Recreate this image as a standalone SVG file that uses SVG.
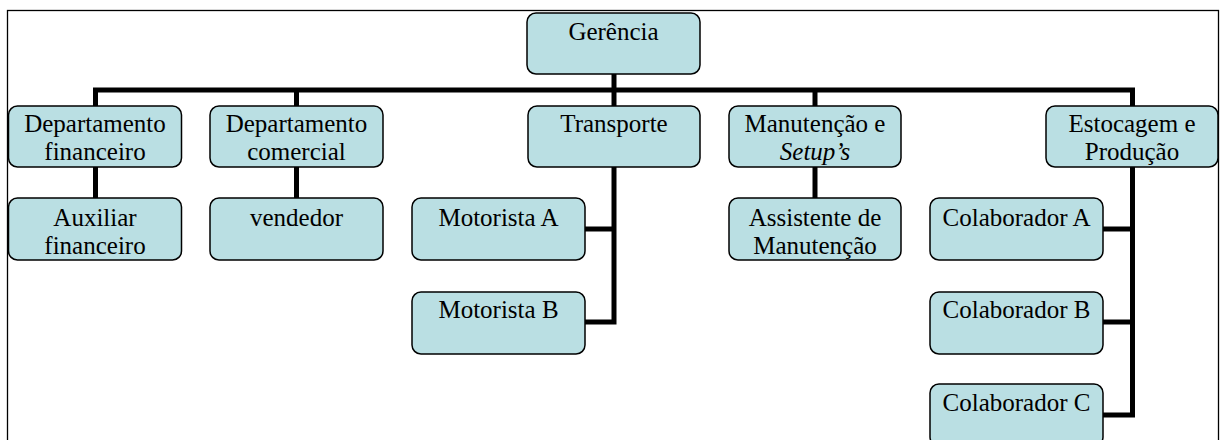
<svg xmlns="http://www.w3.org/2000/svg" width="1221" height="440" viewBox="0 0 1221 440">
<style>
.box{fill:#BADFE3;stroke:#000;stroke-width:1.5}
.t{font-family:"Liberation Serif","Times New Roman",serif;font-size:25px;fill:#000;text-anchor:middle}
.c{fill:none;stroke:#000;stroke-width:5;stroke-linecap:butt;stroke-linejoin:miter}
</style>
<rect x="7.5" y="10.5" width="1211" height="440" fill="#fff" stroke="#000" stroke-width="1.3"/>
<g id="connectors">
<path class="c" d="M614 74 V106"/>
<path class="c" d="M95.5 106 V90 H1132.5 V106"/>
<path class="c" d="M296.5 90 V106"/>
<path class="c" d="M815 90 V106"/>
<path class="c" d="M95.5 167 V198"/>
<path class="c" d="M296.5 167 V198"/>
<path class="c" d="M815 167 V198"/>
<path class="c" d="M614 167 V322 H585"/>
<path class="c" d="M585 229 H614"/>
<path class="c" d="M1132.5 167 V415 H1103"/>
<path class="c" d="M1103 229 H1132.5"/>
<path class="c" d="M1103 322 H1132.5"/>
</g>
<g id="gerencia"><rect class="box" x="527" y="13" width="173" height="61" rx="9"/><text class="t" x="613.5" y="40">Gerência</text></g>
<g id="dep-financeiro"><rect class="box" x="8.5" y="106" width="173" height="61" rx="9"/><text class="t" x="95" y="132">Departamento</text><text class="t" x="95" y="160">financeiro</text></g>
<g id="dep-comercial"><rect class="box" x="210" y="106" width="173" height="61" rx="9"/><text class="t" x="296.5" y="132">Departamento</text><text class="t" x="296.5" y="160">comercial</text></g>
<g id="transporte"><rect class="box" x="528" y="106" width="172" height="61" rx="9"/><text class="t" x="614" y="132">Transporte</text></g>
<g id="manutencao"><rect class="box" x="729" y="106" width="172" height="61" rx="9"/><text class="t" x="815" y="132">Manutenção e</text><text class="t" x="815" y="160" font-style="italic">Setup’s</text></g>
<g id="estocagem"><rect class="box" x="1046" y="106" width="172" height="61" rx="9"/><text class="t" x="1132" y="132">Estocagem e</text><text class="t" x="1132" y="160">Produção</text></g>
<g id="auxiliar"><rect class="box" x="8.5" y="198" width="173" height="62" rx="9"/><text class="t" x="95" y="226">Auxiliar</text><text class="t" x="95" y="254">financeiro</text></g>
<g id="vendedor"><rect class="box" x="210" y="198" width="173" height="62" rx="9"/><text class="t" x="296.5" y="226">vendedor</text></g>
<g id="motorista-a"><rect class="box" x="412" y="198" width="173" height="62" rx="9"/><text class="t" x="498.5" y="226">Motorista A</text></g>
<g id="motorista-b"><rect class="box" x="412" y="292" width="173" height="62" rx="9"/><text class="t" x="498.5" y="318">Motorista B</text></g>
<g id="assistente"><rect class="box" x="729" y="198" width="172" height="62" rx="9"/><text class="t" x="815" y="226">Assistente de</text><text class="t" x="815" y="254">Manutenção</text></g>
<g id="colab-a"><rect class="box" x="930" y="198" width="173" height="62" rx="9"/><text class="t" x="1016.5" y="226">Colaborador A</text></g>
<g id="colab-b"><rect class="box" x="930" y="292" width="173" height="62" rx="9"/><text class="t" x="1016.5" y="318">Colaborador B</text></g>
<g id="colab-c"><rect class="box" x="930" y="384" width="173" height="62" rx="9"/><text class="t" x="1016.5" y="411">Colaborador C</text></g>
</svg>
